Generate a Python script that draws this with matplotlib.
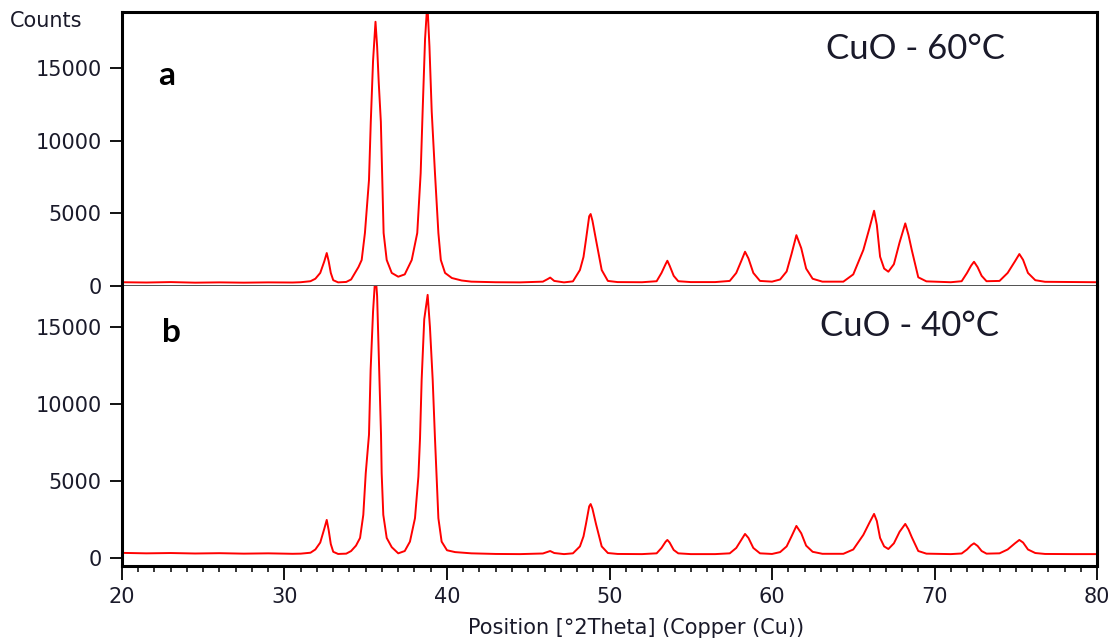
import matplotlib
matplotlib.use("Agg")
import matplotlib.pyplot as plt
from matplotlib.ticker import MultipleLocator


positions_60 = [
    20.0, 21.5, 23.0, 24.5, 26.0, 27.5, 29.0, 30.5, 31.0, 31.6,
    31.9, 32.2, 32.45, 32.6, 32.72, 32.85, 33.0, 33.3, 33.8, 34.1,
    34.34, 34.55, 34.75, 34.95, 35.2, 35.31, 35.45, 35.6, 35.7, 35.8,
    35.93, 36.02, 36.1, 36.29, 36.6, 37.0, 37.4, 37.83, 38.17, 38.38,
    38.5, 38.65, 38.79, 38.92, 39.06, 39.26, 39.47, 39.62, 39.88, 40.3,
    40.9, 41.5, 43.0, 44.5, 45.9, 46.2, 46.35, 46.6, 47.2, 47.75,
    48.18, 48.4, 48.55, 48.75, 48.84, 48.95, 49.17, 49.52, 49.9, 50.5,
    52.0, 52.9, 53.2, 53.45, 53.56, 53.7, 53.95, 54.23, 55.0, 56.5,
    57.4, 57.8, 58.1, 58.34, 58.55, 58.85, 59.26, 60.0, 60.5, 60.9,
    61.2, 61.5, 61.8, 62.1, 62.5, 63.1, 64.39, 65.0, 65.62, 66.0,
    66.28, 66.45, 66.65, 66.9, 67.16, 67.5, 67.85, 68.2, 68.4, 68.6,
    69.0, 69.5, 71.0, 71.67, 72.0, 72.25, 72.43, 72.65, 72.9, 73.2,
    74.0, 74.5, 74.95, 75.22, 75.45, 75.75, 76.2, 76.8, 78.5, 80.0,
]
counts_60 = [
    260, 240, 270, 230, 250, 230, 250, 240, 260, 330,
    500, 900, 1700, 2270, 1700, 900, 400, 250, 280, 450,
    900, 1300, 1790, 3650, 7300, 11300, 15500, 18190, 16500, 14000,
    11300, 7300, 3650, 1790, 900, 640, 800, 1790, 3650, 7770,
    12000, 17000, 19500, 16500, 12000, 7770, 3650, 1790, 900, 550,
    380, 300, 260, 250, 300, 480, 580, 350, 250, 320,
    1100, 2000, 3170, 4800, 4955, 4500, 3170, 1100, 350, 270,
    260, 330, 900, 1500, 1740, 1400, 700, 330, 270, 270,
    350, 900, 1700, 2360, 1900, 900, 350, 300, 450, 1000,
    2200, 3500, 2600, 1200, 500, 300, 300, 800, 2480, 4000,
    5180, 4200, 2020, 1200, 985, 1500, 3000, 4310, 3500, 2480,
    600, 320, 260, 330, 900, 1400, 1670, 1300, 700, 330,
    350, 900, 1700, 2200, 1800, 900, 400, 290, 270, 260,
]

# CuO - 40°C (panel b)
positions_40 = [
    20.0, 21.5, 23.0, 24.5, 26.0, 27.5, 29.0, 30.5, 31.0, 31.6,
    31.9, 32.2, 32.45, 32.6, 32.72, 32.85, 33.0, 33.3, 33.8, 34.1,
    34.4, 34.65, 34.85, 35.0, 35.2, 35.3, 35.45, 35.6, 35.7, 35.83,
    35.94, 35.98, 36.08, 36.29, 36.6, 37.0, 37.4, 37.72, 38.03, 38.24,
    38.34, 38.44, 38.6, 38.81, 38.95, 39.12, 39.26, 39.36, 39.47, 39.67,
    40.0, 40.5, 41.5, 43.0, 44.5, 45.9, 46.2, 46.35, 46.6, 47.2,
    47.75, 48.18, 48.4, 48.55, 48.75, 48.84, 48.95, 49.17, 49.52, 49.9,
    50.5, 52.0, 52.9, 53.2, 53.45, 53.56, 53.7, 53.95, 54.23, 55.0,
    56.5, 57.4, 57.8, 58.1, 58.34, 58.55, 58.85, 59.26, 60.0, 60.5,
    60.9, 61.2, 61.5, 61.8, 62.1, 62.5, 63.1, 64.39, 65.0, 65.62,
    66.0, 66.28, 66.45, 66.65, 66.9, 67.16, 67.5, 67.85, 68.2, 68.4,
    68.6, 69.0, 69.5, 71.0, 71.67, 72.0, 72.25, 72.43, 72.65, 72.9,
    73.2, 74.0, 74.5, 74.95, 75.22, 75.45, 75.75, 76.2, 76.8, 78.5,
    80.0,
]
counts_40 = [
    330, 300, 320, 290, 310, 280, 300, 270, 280, 340,
    550, 1000, 1900, 2470, 1800, 900, 400, 260, 280, 450,
    800, 1300, 2800, 5500, 8000, 12200, 16000, 18500, 17000, 12200,
    8000, 5500, 2800, 1300, 700, 300, 450, 1060, 2580, 5280,
    7770, 11560, 15500, 17080, 15000, 11560, 7770, 5280, 2580, 1060,
    500, 380, 300, 260, 250, 290, 400, 450, 320, 250,
    300, 750, 1400, 2200, 3350, 3500, 3200, 2200, 750, 320,
    260, 250, 300, 650, 1050, 1170, 1000, 520, 300, 250,
    250, 300, 650, 1150, 1560, 1300, 650, 300, 260, 380,
    750, 1400, 2080, 1600, 800, 400, 270, 270, 550, 1500,
    2300, 2860, 2400, 1300, 750, 580, 950, 1700, 2210, 1850,
    1350, 450, 280, 250, 290, 550, 820, 950, 780, 450,
    280, 300, 550, 950, 1170, 1000, 550, 320, 260, 250,
    250,
]

panel_letters = ["a", "b"]
panel_titles = ["CuO - 60°C", "CuO - 40°C"]
y_ticks = [0, 5000, 10000, 15000]
x_ticks = [20, 30, 40, 50, 60, 70, 80]

LINE_COLOR = "#ff0000"
TEXT_COLOR = "#1a1a2a"
TICK_FONT = 15
FRAME_WIDTH = 2.2


def style_axes(axes, is_top):
    axes.set_xlim(20, 80)
    axes.set_yticks(y_ticks)
    axes.tick_params(axis="y", direction="out", length=8.5, width=1.3,
                     pad=6, labelsize=TICK_FONT, labelcolor=TEXT_COLOR)
    for side in ["left", "right"]:
        axes.spines[side].set_linewidth(FRAME_WIDTH)
    if is_top:
        axes.spines["top"].set_linewidth(FRAME_WIDTH)
        axes.spines["bottom"].set_linewidth(1.2)
        axes.spines["bottom"].set_color("#333333")
        axes.tick_params(axis="x", which="both", bottom=False, labelbottom=False)
    else:
        axes.spines["top"].set_visible(False)
        axes.spines["bottom"].set_linewidth(FRAME_WIDTH)
        axes.set_xticks(x_ticks)
        axes.xaxis.set_minor_locator(MultipleLocator(1))
        axes.tick_params(axis="x", which="major", direction="out", length=10,
                         width=1.3, pad=5, labelsize=TICK_FONT,
                         labelcolor=TEXT_COLOR)
        axes.tick_params(axis="x", which="minor", direction="out", length=4.5,
                         width=1.1)


def draw_panel(axes, positions, counts, letter, title, letter_xy, title_xy):
    axes.plot(positions, counts, color=LINE_COLOR, linewidth=1.4)
    axes.text(letter_xy[0], letter_xy[1], letter, transform=axes.transAxes,
              ha="center", va="center", fontsize=24, fontweight="bold",
              family=["Lato", "DejaVu Sans"], color="black")
    axes.text(title_xy[0], title_xy[1], title, transform=axes.transAxes,
              ha="center", va="center", fontsize=25,
              family=["Lato", "DejaVu Sans"], color=TEXT_COLOR)


def create_figure():
    figure = plt.figure(figsize=(11.16, 6.43), dpi=100)
    top_axes = figure.add_axes([0.1093, 0.5552, 0.8737, 0.4261])
    bottom_axes = figure.add_axes([0.1093, 0.1198, 0.8737, 0.4355],
                                  sharex=top_axes)

    draw_panel(top_axes, positions_60, counts_60, panel_letters[0],
               panel_titles[0], (0.046, 0.77), (0.814, 0.865))
    draw_panel(bottom_axes, positions_40, counts_40, panel_letters[1],
               panel_titles[1], (0.051, 0.834), (0.808, 0.857))

    top_axes.set_ylim(0, 18860)
    bottom_axes.set_ylim(-520, 17660)
    style_axes(top_axes, True)
    style_axes(bottom_axes, False)

    figure.text(0.009, 0.967, "Counts", fontsize=TICK_FONT, ha="left",
                va="center", color=TEXT_COLOR)
    figure.text(0.570, 0.023, "Position [°2Theta] (Copper (Cu))",
                fontsize=TICK_FONT, ha="center", va="center", color=TEXT_COLOR)
    figure.savefig("out.png", dpi=100)


if __name__ == "__main__":
    create_figure()
